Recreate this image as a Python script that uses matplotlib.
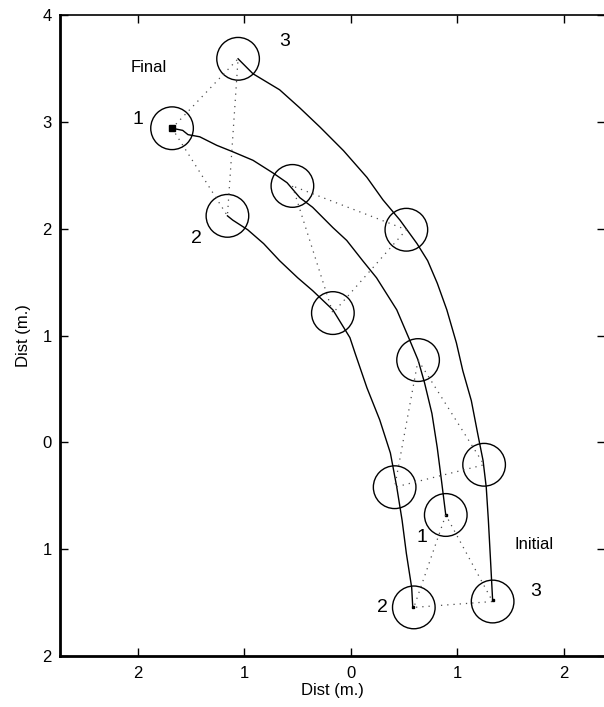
import numpy as np
import matplotlib
matplotlib.use("Agg")
import matplotlib.pyplot as plt
from matplotlib.patches import Circle

plt.rcParams['font.family'] = ['Liberation Sans', 'DejaVu Sans']

# trayectorias de los tres robots (m.)
robot1_x = [-1.68, -1.58, -1.53, -1.42, -1.26, -1.11, -0.92, -0.73, -0.60, -0.48, -0.36, -0.17,
            -0.04, 0.11, 0.24, 0.43, 0.55, 0.63, 0.69, 0.76, 0.81, 0.85, 0.89]
robot1_y = [2.94, 2.92, 2.88, 2.86, 2.78, 2.72, 2.64, 2.52, 2.43, 2.29, 2.20, 2.01,
            1.89, 1.70, 1.54, 1.24, 0.96, 0.77, 0.56, 0.27, -0.05, -0.36, -0.68]
robot2_x = [-1.16, -1.11, -0.97, -0.82, -0.67, -0.50, -0.36, -0.17, -0.01, 0.04, 0.15, 0.27,
            0.37, 0.43, 0.48, 0.52, 0.57, 0.58]
robot2_y = [2.12, 2.08, 1.99, 1.86, 1.70, 1.54, 1.42, 1.24, 0.98, 0.83, 0.51, 0.21,
            -0.10, -0.42, -0.73, -1.04, -1.36, -1.545]
robot3_x = [-1.06, -0.92, -0.67, -0.48, -0.29, -0.07, 0.15, 0.30, 0.46, 0.62, 0.72, 0.81,
            0.90, 0.99, 1.05, 1.13, 1.19, 1.24, 1.27, 1.29, 1.31, 1.33]
robot3_y = [3.59, 3.45, 3.30, 3.13, 2.95, 2.73, 2.48, 2.27, 2.08, 1.86, 1.70, 1.49,
            1.24, 0.93, 0.67, 0.39, 0.08, -0.17, -0.42, -0.73, -1.10, -1.48]

# formaciones (robot 1, 2, 3) en cuatro instantes
form_x = [[0.89, 0.59, 1.33], [0.63, 0.41, 1.25], [-0.55, -0.17, 0.52], [-1.68, -1.16, -1.06]]
form_y = [[-0.68, -1.545, -1.49], [0.77, -0.42, -0.21], [2.40, 1.21, 1.99], [2.94, 2.12, 3.59]]
radio = 0.2

# etiquetas
etiquetas = ["Final", "3", "1", "2", "1", "2", "3", "Initial"]
etiq_x = [-1.90, -0.62, -2.00, -1.45, 0.67, 0.30, 1.73, 1.72]
etiq_y = [3.51, 3.75, 3.02, 1.91, -0.89, -1.545, -1.40, -0.96]

xticks = [-2, -1, 0, 1, 2]
xtick_labels = ["2", "1", "0", "1", "2"]
yticks = [4, 3, 2, 1, 0, -1, -2]
ytick_labels = ["4", "3", "2", "1", "0", "1", "2"]

fig = plt.figure(figsize=(6.04, 7.07), dpi=100)
ax = fig.add_axes([60/604, 51/707, 545/604, 641/707])

for xs, ys in [(robot1_x, robot1_y), (robot2_x, robot2_y), (robot3_x, robot3_y)]:
    ax.plot(xs, ys, color='black', lw=1.0)
    ax.plot(xs[-1], ys[-1], 's', color='black', ms=2)

for fx, fy in zip(form_x, form_y):
    ax.plot(fx + [fx[0]], fy + [fy[0]], ls=(0, (1, 4)), color='0.3', lw=0.9)
    for cx, cy in zip(fx, fy):
        ax.add_patch(Circle((cx, cy), radio, fill=False, edgecolor='black', lw=1.0))
ax.plot(robot1_x[0], robot1_y[0], 's', color='black', ms=4)

for t, tx, ty in zip(etiquetas, etiq_x, etiq_y):
    size = 12 if t in ("Final", "Initial") else 14
    ax.text(tx, ty, t, fontsize=size, ha='center', va='center')

ax.set_xlim(-2.732, 2.385)
ax.set_ylim(-2, 4)
ax.set_xticks(xticks)
ax.set_xticklabels(xtick_labels)
ax.set_yticks(yticks)
ax.set_yticklabels(ytick_labels)
ax.tick_params(direction='in', length=6, width=1, labelsize=12, top=True, right=True, pad=7)
ax.tick_params(axis='y', pad=6)
ax.set_xlabel("Dist (m.)", fontsize=12, labelpad=2)
ax.set_ylabel("Dist (m.)", fontsize=12, labelpad=8)
for s in ['left', 'bottom']:
    ax.spines[s].set_linewidth(2)
ax.spines['top'].set_linewidth(1.2)
ax.spines['right'].set_linewidth(1.0)

plt.savefig("out.png", dpi=100)
